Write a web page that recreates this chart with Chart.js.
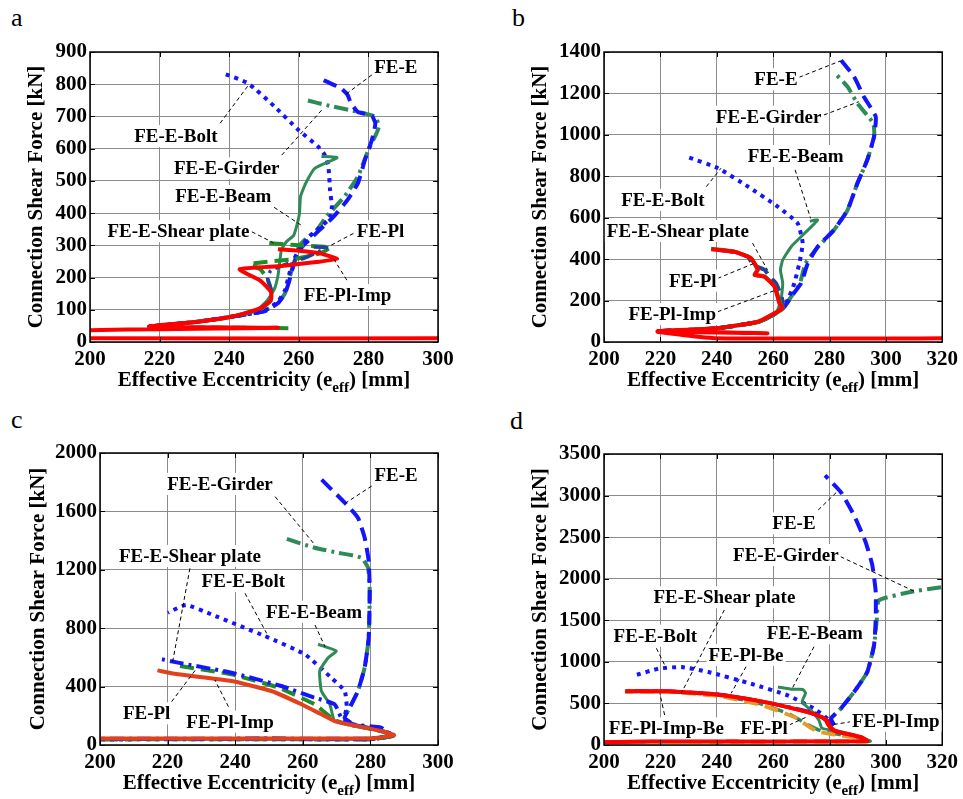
<!DOCTYPE html>
<html>
<head>
<meta charset="utf-8">
<script src="https://cdn.jsdelivr.net/npm/chart.js@4.4.1/dist/chart.umd.min.js"></script>
<style>
  body { margin: 0; background: #fff; width: 963px; height: 799px; position: relative; overflow: hidden; font-family: "Liberation Serif", "Times New Roman", serif; }
  .panel { position: absolute; }
  .tag { position: absolute; font-size: 26px; line-height: 30px; color: #000; }
</style>
</head>
<body>
<div class="tag" style="left:11px;top:3px">a</div>
<div class="tag" style="left:512px;top:3px">b</div>
<div class="tag" style="left:11px;top:405px">c</div>
<div class="tag" style="left:510px;top:406px">d</div>

<div class="panel" style="left:0;top:0;width:480px;height:400px"><canvas id="chartA"></canvas></div>
<div class="panel" style="left:480px;top:0;width:483px;height:400px"><canvas id="chartB"></canvas></div>
<div class="panel" style="left:0;top:400px;width:480px;height:399px"><canvas id="chartC"></canvas></div>
<div class="panel" style="left:480px;top:400px;width:483px;height:399px"><canvas id="chartD"></canvas></div>

<script>
// ---- ticks
const xTicksA = [200, 220, 240, 260, 280, 300];
const yTicksA = [0, 100, 200, 300, 400, 500, 600, 700, 800, 900];
const xTicksB = [200, 220, 240, 260, 280, 300, 320];
const yTicksB = [0, 200, 400, 600, 800, 1000, 1200, 1400];
const xTicksC = [200, 220, 240, 260, 280, 300];
const yTicksC = [0, 400, 800, 1200, 1600, 2000];
const xTicksD = [200, 220, 240, 260, 280, 300, 320];
const yTicksD = [0, 500, 1000, 1500, 2000, 2500, 3000, 3500];

const xTitleParts = ["Effective Eccentricity (e", "eff", ") [mm]"];
const yTitle = "Connection Shear Force [kN]";

// ---- panel a  [eccentricity mm, shear kN]
const aImp = [[330,12],[190,12],[190,34],[254,44],[217,48],[231,63],[241,79],[249,105],[252,130],[252,156],[249,190],[243,226],[255,236],[265,248],[271,258],[266,275],[260,283],[254,288]];
const aShear = [[257,43],[232,45],[217,48],[231,63],[241,79],[249,102],[252,130],[252,160],[251,195],[249,225],[246,242],[259,258],[266,275],[269,294],[260,300],[250,308]];
const aPl = [[217,48],[231,63],[241,79],[249,104],[252,135],[252,165],[251,200],[252,222],[256,240],[262,262],[266,282],[268,293],[264,295]];
const aBeam = [[217,48],[231,63],[241,79],[248,100],[251,130],[253,165],[254,205],[254.5,245],[255,286],[256.5,312],[258.5,330],[259.5,364],[260.2,400],[260.5,452],[262,493],[264.6,539],[271,572],[266.5,576]];
const aBolt = [[217,48],[231,63],[241,79],[250,96],[254,125],[256,160],[257,200],[258,240],[260,286],[263,327],[266,355],[269,385],[269.5,420],[269,470],[268.5,545],[267.5,580],[265.5,607],[259.8,659],[253,731],[245.4,803],[238.2,834]];
const aE = [[217,48],[231,63],[241,79],[250,95],[254,120],[256,150],[257,180],[258,220],[259,257],[261,296],[263,317],[266,348],[270,389],[274,441],[277,493],[279,565],[281,627],[282,678],[281,702],[277,714],[275,741],[274,767],[272,788],[266,818]];
const aGirder = [[217,48],[231,63],[241,79],[250,96],[254,122],[256,150],[257,185],[258,225],[259,260],[260,296],[262,320],[265,345],[268,390],[273,450],[277,514],[280,596],[282,640],[283,668],[282,699],[277,714],[268,735],[262,751]];

// ---- panel b
const bImp = [[330,18],[240,18],[219,50],[258,42],[219,52],[240,66],[254.6,98],[260.5,139],[263.4,163],[262.2,187],[260.5,267],[256.9,315],[253.4,324],[254.6,348],[252.2,404],[246.3,436],[238.1,448]];
const bPl = [[219,52],[240,67],[255,98],[261,139],[263.5,163],[262.5,190],[260.5,268],[257,316],[253.5,326],[254.5,350],[252,405],[246,437],[238,450]];
const bShear = [[219,52],[240,66],[255,98],[261,139],[263.4,170],[263,219],[261,283],[258.5,320],[257,348],[253,372],[251,412],[246,434],[240,446]];
const bBeam = [[219,52],[240,66],[255,98],[261,139],[262.8,203],[263.4,283],[262.6,348],[263.4,396],[266.4,460],[269.9,508],[275.8,589],[273,583]];
const bBolt = [[219,52],[240,66],[255,98],[261,139],[263.5,170],[265.2,203],[267.5,283],[269.3,380],[270.5,477],[268.7,573],[261.7,653],[251.1,750],[240.5,839],[229.9,892]];
const bE = [[219,52],[240,66],[255,98],[261,139],[264,170],[266.4,219],[269.9,283],[272.3,380],[275.8,460],[281.6,541],[286.4,637],[289.9,766],[293.4,879],[295.8,991],[296.4,1088],[292.2,1184],[288.7,1281],[284,1362]];
const bGirder = [[219,52],[240,66],[255,98],[261,139],[264,170],[266.4,219],[269.5,283],[271.5,380],[276,460],[281.6,541],[286.4,637],[289.9,766],[293.4,879],[295.8,991],[295.5,1056],[289.9,1152],[286.4,1233],[282.2,1294]];

// ---- panel c
const cImp = [[195,44],[250,44],[280.3,46],[287,68],[283.2,96],[273.4,142],[269.4,164],[265.5,210],[259.6,279],[250.7,370],[238.9,438],[223.1,484],[217,511]];
const cPl = [[195,38],[250,40],[280,40],[287,66],[283,96],[273.4,142],[269.4,170],[268.4,187],[263.5,279],[252.7,393],[238.9,484],[223.6,541]];
const cShear = [[195,42],[250,44],[280,44],[287,70],[285.2,84],[283.2,119],[274.4,142],[271.4,187],[269.4,279],[263.5,324],[253.6,404],[238.9,495],[223.1,564],[217,594]];
const cBeam = [[195,38],[250,40],[280,40],[287,65],[283,100],[274,140],[269.4,164],[268,279],[265.5,370],[265,507],[267.5,598],[269.9,644],[264.5,690]];
const cBolt = [[195,38],[250,40],[280,40],[287,65],[283,100],[274,140],[272.4,190],[273,260],[272.4,370],[268.4,461],[260.6,621],[248.7,747],[232.9,895],[225.5,959],[220.1,906]];
const cE = [[195,40],[250,42],[280,40],[287,65],[283,100],[275,140],[272.4,187],[273.9,256],[276.3,370],[278.3,530],[279.5,735],[279.8,1055],[279.5,1260],[278.3,1420],[276.3,1557],[272.4,1660],[264.5,1842]];
const cGirder = [[195,40],[250,42],[280,40],[287,65],[283,100],[275,140],[272.4,187],[273.9,256],[276.3,370],[278.3,530],[279.5,735],[279.8,1055],[279.3,1214],[277.3,1283],[270.4,1317],[263.5,1351],[254.1,1420]];

// ---- panel d
const dImp = [[190,24],[216.9,44],[293.4,44],[291.1,96],[284,150],[281.6,177],[280,237],[279,300],[275.8,357],[269.9,417],[255.8,525],[240.5,605],[222.8,645],[207.5,645]];
const dImpBe = [[190,26],[216.9,45],[293,45],[290.5,98],[283.5,152],[281,180],[279.5,240],[278.5,302],[275.5,358],[269.5,418],[255.5,527],[240.5,607],[222.8,646],[208,646]];
const dPl = [[200,32],[260,42],[293,44],[289,90],[281,130],[276,160],[273.5,205],[271,260],[268,330],[256,480],[240.5,590],[222.8,640],[207.5,640]];
const dPlBe = [[200,32],[260,43],[294,44],[290,92],[282,135],[277,170],[274,215],[271,270],[266,370],[255,500],[240.5,600],[222.8,642],[207.5,642]];
const dShear = [[281,240],[279,300],[275,380],[268,440],[255,530],[240.5,610],[222.8,648],[207.5,648]];
const dBeam = [[200,30],[260,42],[294.5,44],[291,96],[284,160],[277.4,201],[276.2,301],[273.9,401],[270.3,521],[271.5,622],[270.5,668],[267,670],[261.7,698]];
const dBolt = [[281.6,240],[279.3,317],[274.6,437],[265.2,597],[252.2,737],[237,878],[227.5,938],[219.3,918],[211,838]];
const dE = [[281.6,240],[280.5,317],[284,437],[288.7,637],[293.4,878],[295.8,1199],[296.4,1519],[296.4,1840],[295.2,2161],[292.8,2442],[288.7,2763],[284,3043],[278.4,3243]];
const dGirder = [[281.6,240],[280.5,317],[284,437],[288.7,637],[293.4,878],[295.8,1199],[296.8,1519],[297.5,1740],[308.7,1840],[319.9,1900],[330,1940]];

// ---- labels with leader lines (text centre, leader start, leader end)
const notesA = [
  {t: "FE-E", at: [287.9, 854], from: [281, 829], to: [273.3, 767]},
  {t: "FE-E-Bolt", at: [224.7, 639], from: [237.4, 679], to: [245.8, 801]},
  {t: "FE-E-Girder", at: [239.3, 539], from: [255.1, 580], to: [266.6, 720]},
  {t: "FE-E-Beam", at: [238.3, 453], from: [252.9, 418], to: [261.3, 358]},
  {t: "FE-E-Shear plate", at: [225.4, 344], from: [246.5, 342], to: [252.7, 308]},
  {t: "FE-Pl", at: [283.5, 344], from: [275.7, 337], to: [268.5, 296]},
  {t: "FE-Pl-Imp", at: [274, 146], from: [273.8, 192], to: [269.9, 260]}
];
const notesB = [
  {t: "FE-E", at: [261, 1268], from: [269.2, 1278], to: [283.9, 1357]},
  {t: "FE-E-Girder", at: [258.4, 1088], from: [278, 1096], to: [290.4, 1160]},
  {t: "FE-E-Beam", at: [268, 898], from: [267.8, 831], to: [273.3, 597]},
  {t: "FE-E-Bolt", at: [220.9, 686], from: [236.3, 750], to: [241.5, 839]},
  {t: "FE-E-Shear plate", at: [226.2, 536], from: [252.7, 477], to: [258, 348]},
  {t: "FE-Pl", at: [231.5, 296], from: [240.3, 307], to: [253.3, 380]},
  {t: "FE-Pl-Imp", at: [224.2, 135], from: [240.3, 146], to: [261, 251]}
];
const notesC = [
  {t: "FE-E", at: [287.6, 1849], from: [280.4, 1774], to: [272.5, 1655]},
  {t: "FE-E-Girder", at: [235.5, 1788], from: [251.8, 1701], to: [263.6, 1370]},
  {t: "FE-E-Shear plate", at: [226.6, 1295], from: [226.6, 1210], to: [221.5, 571]},
  {t: "FE-E-Bolt", at: [242.4, 1123], from: [242.9, 1039], to: [249.3, 765]},
  {t: "FE-E-Beam", at: [263.3, 913], from: [263.6, 822], to: [266.6, 673]},
  {t: "FE-Pl", at: [213.8, 217], from: [221.2, 297], to: [228.6, 525]},
  {t: "FE-Pl-Imp", at: [238.5, 160], from: [238, 262], to: [234, 445]}
];
const notesD = [
  {t: "FE-E", at: [267.4, 2666], from: [276, 2827], to: [282.7, 3047]},
  {t: "FE-E-Girder", at: [264.5, 2285], from: [283.9, 2265], to: [310.4, 1844]},
  {t: "FE-E-Shear plate", at: [242.7, 1776], from: [242.7, 1624], to: [227.4, 622]},
  {t: "FE-E-Bolt", at: [218.2, 1315], from: [218.6, 1163], to: [222.1, 922]},
  {t: "FE-E-Beam", at: [274.8, 1343], from: [274.5, 1182], to: [266.8, 682]},
  {t: "FE-Pl-Be", at: [250.4, 1082], from: [250.4, 942], to: [245.1, 622]},
  {t: "FE-Pl-Imp-Be", at: [222.1, 201], from: [221.5, 361], to: [219.8, 622]},
  {t: "FE-Pl", at: [256.8, 201], from: [265.7, 241], to: [272.1, 341]},
  {t: "FE-Pl-Imp", at: [303.5, 293], from: [287.8, 281], to: [280.4, 241]}
];

const FONT = '"Liberation Serif", "Times New Roman", serif';
Chart.defaults.font.family = FONT;
Chart.defaults.color = "#000";

const BLUE = "#1414ff", SEA = "#2e8b57", GREEN = "#1f8c28", NAVY = "#23409a";
const RED = "#ff0000", RED_C = "#e2411c", ORANGE = "#e59a2e";
const DASH = [14, 7], DASHDOT = [14, 5, 3, 5], DOT = [4, 5], SOLID = [];

function curve(label, pts, color, dash, width) {
  return {
    label: label,
    data: pts.map(p => ({x: p[0], y: p[1]})),
    showLine: true,
    borderColor: color,
    backgroundColor: color,
    borderDash: dash,
    borderWidth: width,
    pointRadius: 0,
    pointHoverRadius: 0,
    tension: 0.15,
    borderCapStyle: "butt",
    borderJoinStyle: "round"
  };
}

// box, inward ticks, labels, x title with subscript
const figurePlugin = {
  id: "figure",
  afterDatasetsDraw(chart, args, opts) {
    const ctx = chart.ctx, a = chart.chartArea, xs = chart.scales.x, ys = chart.scales.y;
    ctx.save();
    ctx.strokeStyle = "#000";
    ctx.lineWidth = 1;
    ctx.setLineDash([]);
    ctx.beginPath();
    xs.ticks.forEach(t => {
      const px = Math.round(xs.getPixelForValue(t.value)) + 0.5;
      ctx.moveTo(px, a.bottom); ctx.lineTo(px, a.bottom - 5);
      ctx.moveTo(px, a.top); ctx.lineTo(px, a.top + 5);
    });
    ys.ticks.forEach(t => {
      const py = Math.round(ys.getPixelForValue(t.value)) + 0.5;
      ctx.moveTo(a.left, py); ctx.lineTo(a.left + 5, py);
      ctx.moveTo(a.right, py); ctx.lineTo(a.right - 5, py);
    });
    ctx.stroke();
    ctx.lineWidth = 1.5;
    ctx.strokeRect(a.left, a.top, a.right - a.left, a.bottom - a.top);

    // leader lines
    ctx.lineWidth = 1;
    ctx.setLineDash([4, 3]);
    ctx.beginPath();
    opts.notes.forEach(n => {
      ctx.moveTo(xs.getPixelForValue(n.from[0]), ys.getPixelForValue(n.from[1]));
      ctx.lineTo(xs.getPixelForValue(n.to[0]), ys.getPixelForValue(n.to[1]));
    });
    ctx.stroke();
    ctx.setLineDash([]);

    ctx.font = "bold 19px " + FONT;
    ctx.textAlign = "center";
    ctx.textBaseline = "middle";
    opts.notes.forEach(n => {
      const tx = xs.getPixelForValue(n.at[0]), ty = ys.getPixelForValue(n.at[1]);
      const w = ctx.measureText(n.t).width;
      ctx.fillStyle = "#fff";
      ctx.fillRect(tx - w / 2 - 2, ty - 11, w + 4, 22);
      ctx.fillStyle = "#000";
      ctx.fillText(n.t, tx, ty + 1);
    });

    // x axis title
    const parts = opts.xTitle;
    const big = "bold 21px " + FONT, small = "bold 15px " + FONT;
    ctx.font = big; const w1 = ctx.measureText(parts[0]).width, w3 = ctx.measureText(parts[2]).width;
    ctx.font = small; const w2 = ctx.measureText(parts[1]).width;
    let sx = (a.left + a.right) / 2 - (w1 + w2 + w3) / 2;
    const base = a.bottom + 44;
    ctx.textAlign = "left";
    ctx.textBaseline = "alphabetic";
    ctx.fillStyle = "#000";
    ctx.font = big; ctx.fillText(parts[0], sx, base); sx += w1;
    ctx.font = small; ctx.fillText(parts[1], sx, base + 6); sx += w2;
    ctx.font = big; ctx.fillText(parts[2], sx, base);
    ctx.restore();
  }
};

function makeChart(id, p) {
  new Chart(document.getElementById(id), {
    type: "scatter",
    data: {datasets: p.datasets},
    options: {
      responsive: true,
      maintainAspectRatio: false,
      animation: false,
      layout: {padding: p.pad},
      plugins: {
        legend: {display: false},
        tooltip: {enabled: false},
        figure: {notes: p.notes, xTitle: xTitleParts}
      },
      scales: {
        x: {
          type: "linear",
          min: p.xTicks[0],
          max: p.xTicks[p.xTicks.length - 1],
          afterBuildTicks: s => { s.ticks = p.xTicks.map(v => ({value: v})); },
          afterFit: s => { s.height = p.xHeight; },
          grid: {color: "#8c8c8c", lineWidth: 1, drawTicks: false},
          border: {display: false},
          ticks: {font: {size: 21, weight: "bold"}, padding: 5, maxRotation: 0, autoSkip: false, callback: v => String(v)}
        },
        y: {
          type: "linear",
          min: p.yTicks[0],
          max: p.yTicks[p.yTicks.length - 1],
          afterBuildTicks: s => { s.ticks = p.yTicks.map(v => ({value: v})); },
          afterFit: s => { s.width = p.yWidth; },
          grid: {color: "#8c8c8c", lineWidth: 1, drawTicks: false},
          border: {display: false},
          ticks: {font: {size: 21, weight: "bold"}, padding: 3, autoSkip: false, callback: v => String(v)},
          title: {display: true, text: yTitle, font: {size: 21, weight: "bold"}, padding: {top: p.yTitlePad, bottom: 0}}
        }
      }
    },
    plugins: [figurePlugin]
  });
}

makeChart("chartA", {
  xTicks: xTicksA, yTicks: yTicksA, notes: notesA,
  pad: {left: 0, top: 52, right: 42, bottom: 0}, yWidth: 90, xHeight: 58, yTitlePad: 24,
  datasets: [
    curve("FE-Pl-Imp", aImp, RED, SOLID, 4),
    curve("FE-Pl", aPl, NAVY, DASHDOT, 3.5),
    curve("FE-E-Shear plate", aShear, GREEN, DASH, 4),
    curve("FE-E-Beam", aBeam, SEA, SOLID, 3),
    curve("FE-E-Bolt", aBolt, BLUE, DOT, 4),
    curve("FE-E", aE, BLUE, DASH, 4),
    curve("FE-E-Girder", aGirder, SEA, DASHDOT, 4)
  ]
});

makeChart("chartB", {
  xTicks: xTicksB, yTicks: yTicksB, notes: notesB,
  pad: {left: 0, top: 52, right: 19, bottom: 0}, yWidth: 124, xHeight: 58, yTitlePad: 48,
  datasets: [
    curve("FE-Pl-Imp", bImp, RED, SOLID, 4),
    curve("FE-Pl", bPl, GREEN, SOLID, 4),
    curve("FE-E-Shear plate", bShear, NAVY, DASH, 4),
    curve("FE-E-Beam", bBeam, SEA, SOLID, 3),
    curve("FE-E-Bolt", bBolt, BLUE, DOT, 4),
    curve("FE-E", bE, BLUE, DASH, 4),
    curve("FE-E-Girder", bGirder, SEA, DASHDOT, 4)
  ]
});

makeChart("chartC", {
  xTicks: xTicksC, yTicks: yTicksC, notes: notesC,
  pad: {left: 0, top: 53, right: 42, bottom: 0}, yWidth: 100, xHeight: 54, yTitlePad: 26,
  datasets: [
    curve("FE-Pl-Imp", cImp, RED_C, SOLID, 4),
    curve("FE-E-Shear plate", cShear, BLUE, DASHDOT, 4),
    curve("FE-Pl", cPl, GREEN, DASH, 4),
    curve("FE-E-Beam", cBeam, SEA, SOLID, 3),
    curve("FE-E-Bolt", cBolt, BLUE, DOT, 4),
    curve("FE-E", cE, BLUE, DASH, 4),
    curve("FE-E-Girder", cGirder, SEA, DASHDOT, 4)
  ]
});

makeChart("chartD", {
  xTicks: xTicksD, yTicks: yTicksD, notes: notesD,
  pad: {left: 0, top: 54, right: 19, bottom: 0}, yWidth: 124, xHeight: 54, yTitlePad: 48,
  datasets: [
    curve("FE-Pl-Imp", dImp, RED, SOLID, 4),
    curve("FE-Pl-Imp-Be", dImpBe, RED, SOLID, 3.5),
    curve("FE-Pl", dPl, ORANGE, DASH, 4),
    curve("FE-Pl-Be", dPlBe, SEA, DASH, 3.5),
    curve("FE-E-Shear plate", dShear, BLUE, DASHDOT, 3.5),
    curve("FE-E-Beam", dBeam, SEA, SOLID, 3),
    curve("FE-E-Bolt", dBolt, BLUE, DOT, 4),
    curve("FE-E", dE, BLUE, DASH, 4),
    curve("FE-E-Girder", dGirder, SEA, DASHDOT, 4)
  ]
});
</script>
</body>
</html>
